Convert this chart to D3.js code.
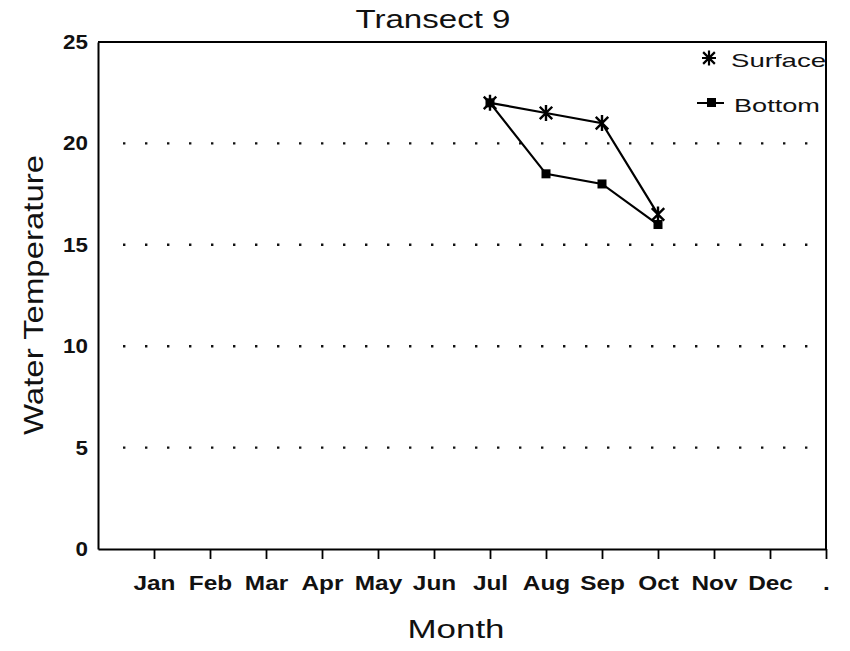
<!DOCTYPE html>
<html>
<head>
<meta charset="utf-8">
<script src="https://cdn.jsdelivr.net/npm/d3@7"></script>
<style>
body { margin: 0; background: #fff; }
svg { font-family: "Liberation Sans", Arial, sans-serif; }
</style>
</head>
<body>
<svg></svg>
<script>
// chart data
let months = ['Jan', 'Feb', 'Mar', 'Apr', 'May', 'Jun', 'Jul', 'Aug', 'Sep', 'Oct', 'Nov', 'Dec', '.']
let surfaceMonths = ['Jul', 'Aug', 'Sep', 'Oct']
let surfaceTemps = [22, 21.5, 21, 16.5]
let bottomMonths = ['Jul', 'Aug', 'Sep', 'Oct']
let bottomTemps = [22, 18.5, 18, 16]
let yTicks = [0, 5, 10, 15, 20, 25]
let gridValues = [5, 10, 15, 20]

let width = 850
let height = 651
let plotLeft = 98
let plotRight = 826
let plotTop = 42
let plotBottom = 549

let svg = d3.select('svg').attr('width', width).attr('height', height)

let xScale = d3.scaleLinear().domain([0, months.length]).range([plotLeft, plotRight])
let yScale = d3.scaleLinear().domain([0, 25]).range([plotBottom, plotTop])
let xPos = (m) => xScale(months.indexOf(m) + 1)

// asterisk like the old plotter one: vertical bar plus an X
let plotStar = {
    draw: (context, size) => {
        let r = Math.sqrt(size) / 2
        let d = r * 0.78
        context.moveTo(0, -r)
        context.lineTo(0, r)
        context.moveTo(-d, -d)
        context.lineTo(d, d)
        context.moveTo(-d, d)
        context.lineTo(d, -d)
    }
}

// dotted grid
svg.selectAll('.grid')
    .data(gridValues)
    .enter()
    .append('line')
    .attr('x1', plotLeft + 25)
    .attr('x2', plotRight - 2)
    .attr('y1', (d) => yScale(d))
    .attr('y2', (d) => yScale(d))
    .attr('stroke', '#111')
    .attr('stroke-width', 2.4)
    .attr('stroke-dasharray', '2.4,19.6')

// frame top and right
svg.append('path')
    .attr('d', 'M' + plotLeft + ',' + plotTop + 'H' + plotRight + 'V' + plotBottom)
    .attr('fill', 'none')
    .attr('stroke', '#000')
    .attr('stroke-width', 2)

let xAxis = d3.axisBottom(xScale)
    .tickValues(d3.range(1, months.length + 1))
    .tickFormat((d) => months[d - 1])
    .tickSizeInner(10)
    .tickSizeOuter(0)
    .tickPadding(17)

svg.append('g')
    .attr('transform', 'translate(0,' + plotBottom + ')')
    .call(xAxis)
    .call((g) => g.select('.domain').attr('stroke-width', 2))
    .call((g) => g.selectAll('.tick line').attr('stroke-width', 1.8))
    .call((g) => g.selectAll('.tick text')
        .attr('font-size', 20).attr('font-weight', 'bold').attr('fill', '#111')
        .attr('font-family', '"Liberation Sans", Arial, sans-serif')
        .attr('transform', 'scale(1.22,1)'))

let yAxis = d3.axisLeft(yScale)
    .tickValues(yTicks)
    .tickSize(0)
    .tickPadding(9)

svg.append('g')
    .attr('transform', 'translate(' + plotLeft + ',0)')
    .call(yAxis)
    .call((g) => g.select('.domain').attr('stroke-width', 2))
    .call((g) => g.selectAll('.tick text')
        .attr('font-size', 20).attr('font-weight', 'bold').attr('fill', '#111')
        .attr('font-family', '"Liberation Sans", Arial, sans-serif')
        .attr('transform', 'scale(1.12,1)'))

let line = d3.line().x((d) => xPos(d[0])).y((d) => yScale(d[1]))

let surface = d3.zip(surfaceMonths, surfaceTemps)
let bottomData = d3.zip(bottomMonths, bottomTemps)

svg.append('path').datum(surface).attr('d', line)
    .attr('fill', 'none').attr('stroke', '#000').attr('stroke-width', 2.2)
svg.append('path').datum(bottomData).attr('d', line)
    .attr('fill', 'none').attr('stroke', '#000').attr('stroke-width', 2.2)

let star = d3.symbol().type(plotStar).size(256)

svg.selectAll('.surf')
    .data(surface)
    .enter()
    .append('path')
    .attr('d', star)
    .attr('transform', (d) => 'translate(' + xPos(d[0]) + ',' + yScale(d[1]) + ')')
    .attr('stroke', '#000').attr('stroke-width', 2.4).attr('fill', 'none')

svg.selectAll('.bot')
    .data(bottomData)
    .enter()
    .append('rect')
    .attr('x', (d) => xPos(d[0]) - 4.5)
    .attr('y', (d) => yScale(d[1]) - 4.5)
    .attr('width', 9).attr('height', 9)
    .attr('fill', '#000')

// legend
svg.append('path').attr('d', d3.symbol().type(plotStar).size(225))
    .attr('transform', 'translate(709,58)')
    .attr('stroke', '#000').attr('stroke-width', 2.2).attr('fill', 'none')
svg.append('line').attr('x1', 702).attr('x2', 716).attr('y1', 58).attr('y2', 58)
    .attr('stroke', '#000').attr('stroke-width', 2)
svg.append('text').attr('x', 731).attr('y', 67).text('Surface')
    .attr('font-size', 19).attr('fill', '#111')
    .attr('textLength', 95).attr('lengthAdjust', 'spacingAndGlyphs')
svg.append('line').attr('x1', 697).attr('x2', 724).attr('y1', 103).attr('y2', 103)
    .attr('stroke', '#000').attr('stroke-width', 2)
svg.append('rect').attr('x', 707).attr('y', 98).attr('width', 9).attr('height', 9).attr('fill', '#000')
svg.append('text').attr('x', 734).attr('y', 112).text('Bottom')
    .attr('font-size', 19).attr('fill', '#111')
    .attr('textLength', 86).attr('lengthAdjust', 'spacingAndGlyphs')

// titles
svg.append('text').attr('x', 433).attr('y', 28).attr('text-anchor', 'middle')
    .attr('font-size', 25).attr('fill', '#111').text('Transect 9')
    .attr('textLength', 155).attr('lengthAdjust', 'spacingAndGlyphs')
svg.append('text').attr('x', 456).attr('y', 638).attr('text-anchor', 'middle')
    .attr('font-size', 25).attr('fill', '#111').text('Month')
    .attr('textLength', 97).attr('lengthAdjust', 'spacingAndGlyphs')
svg.append('text')
    .attr('transform', 'translate(43,295) rotate(-90)')
    .attr('text-anchor', 'middle')
    .attr('font-size', 28).attr('fill', '#111').text('Water Temperature')
    .attr('textLength', 280).attr('lengthAdjust', 'spacingAndGlyphs')
</script>
</body>
</html>
